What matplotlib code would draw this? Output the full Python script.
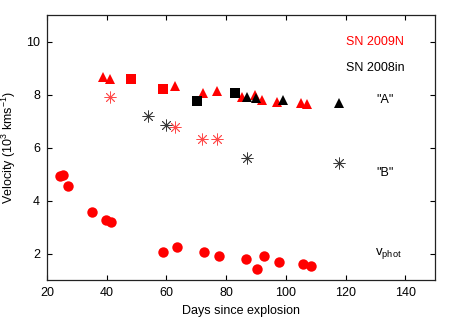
import matplotlib
matplotlib.use("Agg")
import matplotlib.pyplot as plt

plt.rcParams['font.family'] = ['Liberation Sans', 'DejaVu Sans']
plt.rcParams['mathtext.fontset'] = 'custom'
plt.rcParams['mathtext.rm'] = 'Liberation Sans'
plt.rcParams['mathtext.it'] = 'Liberation Sans'

# SN 2009N photospheric velocity (red circles)
vphot_days = [24.2, 25.3, 26.9, 35.2, 39.6, 41.6, 58.8, 63.5, 72.7, 77.6,
              86.8, 90.5, 92.6, 97.6, 105.6, 108.4]
vphot_vel = [4.93, 4.97, 4.53, 3.55, 3.27, 3.20, 2.06, 2.23, 2.04, 1.92,
             1.79, 1.42, 1.92, 1.69, 1.60, 1.54]

# SN 2009N "A" (red triangles and squares)
n09_tri_days = [38.9, 41.2, 63.0, 72.1, 77.1, 85.4, 89.7, 92.1, 96.9, 105.0, 107.0]
n09_tri_vel = [8.68, 8.58, 8.33, 8.05, 8.15, 7.92, 7.98, 7.80, 7.72, 7.68, 7.65]
n09_sq_days = [48.1, 58.9]
n09_sq_vel = [8.58, 8.22]

# SN 2008in "A" (black squares and triangles)
in08_sq_days = [70.2, 83.1]
in08_sq_vel = [7.75, 8.05]
in08_tri_days = [86.9, 89.9, 99.2, 117.9]
in08_tri_vel = [7.92, 7.86, 7.80, 7.68]

# "B" components (asterisks)
n09_b_days = [41.2, 62.9, 72.0, 77.0]
n09_b_vel = [7.89, 6.78, 6.33, 6.33]
in08_b_days = [54.0, 59.9, 86.9, 117.9]
in08_b_vel = [7.20, 6.86, 5.60, 5.41]

fig = plt.figure(figsize=(4.58, 3.21), dpi=100)
ax = fig.add_axes([0.1026, 0.1277, 0.8474, 0.8253])

ax.plot(vphot_days, vphot_vel, 'o', color='red', markersize=7.5, mew=0)
ax.plot(n09_tri_days, n09_tri_vel, '^', color='red', markersize=7.5, mew=0)
ax.plot(n09_sq_days, n09_sq_vel, 's', color='red', markersize=7, mew=0)
ax.plot(in08_sq_days, in08_sq_vel, 's', color='black', markersize=7, mew=0)
ax.plot(in08_tri_days, in08_tri_vel, '^', color='black', markersize=7, mew=0)
ax.plot(n09_b_days, n09_b_vel, marker=(8, 2, 0), linestyle='none',
        color='#ff4a4a', markersize=8.5, mew=0.6)
ax.plot(in08_b_days, in08_b_vel, marker=(8, 2, 0), linestyle='none',
        color='#3a3a3a', markersize=8.5, mew=0.6)

ax.set_xlim(20, 150)
ax.set_ylim(1, 11)
ax.set_xticks([20, 40, 60, 80, 100, 120, 140])
ax.set_yticks([2, 4, 6, 8, 10])
ax.tick_params(direction='in', top=True, right=True, length=3.5, width=0.8,
               labelsize=9, pad=5)
for s in ax.spines.values():
    s.set_linewidth(0.9)
    s.set_color('#222222')

ax.set_xlabel('Days since explosion', fontsize=9, labelpad=4)
ax.set_ylabel('Velocity (10$^3$ kms$^{-1}$)', fontsize=9, labelpad=6)

ax.text(120.0, 10.0, 'SN 2009N', color='red', fontsize=9, va='center', ha='left')
ax.text(120.0, 9.0, 'SN 2008in', color='black', fontsize=9, va='center', ha='left')
ax.text(133.1, 7.81, '"A"', fontsize=9, va='center', ha='center')
ax.text(133.1, 5.04, '"B"', fontsize=9, va='center', ha='center')
ax.text(130.0, 2.0, 'v$_{\\rm phot}$', fontsize=9.5, va='center', ha='left')

fig.savefig('out.png', dpi=100)
